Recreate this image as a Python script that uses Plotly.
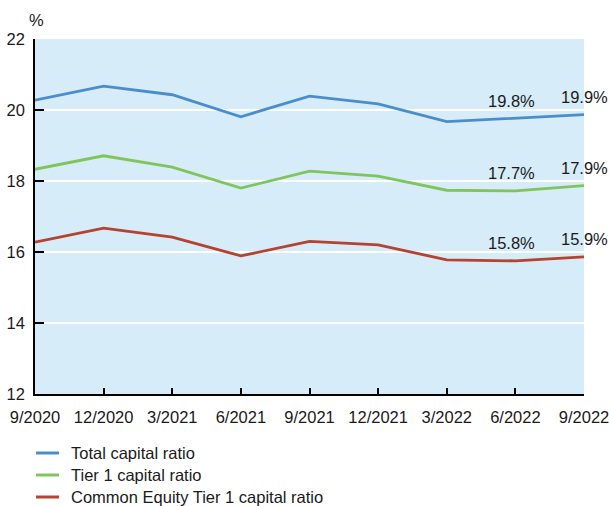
import plotly.graph_objects as go

quarters = ["9/2020", "12/2020", "3/2021", "6/2021", "9/2021",
            "12/2021", "3/2022", "6/2022", "9/2022"]
total_capital = [20.28, 20.67, 20.43, 19.81, 20.39, 20.17, 19.67, 19.76, 19.87]
tier1_capital = [18.33, 18.71, 18.39, 17.80, 18.28, 18.14, 17.74, 17.72, 17.87]
cet1_capital = [16.28, 16.67, 16.42, 15.89, 16.30, 16.20, 15.78, 15.75, 15.86]

series_names = ["Total capital ratio", "Tier 1 capital ratio",
                "Common Equity Tier 1 capital ratio"]
series_values = [total_capital, tier1_capital, cet1_capital]
series_colors = ["#4a8dcc", "#80c45c", "#b4432f"]

FONT = "Liberation Sans, Arial, Helvetica, sans-serif"
TEXT = "#1a1a1a"
FS = 16.5
W, H = 609, 506
M = dict(l=35, r=25, t=39, b=112)

fig = go.Figure()
annotations = []
shapes = []
for name, values, color in zip(series_names, series_values, series_colors):
    fig.add_trace(go.Scatter(
        x=quarters, y=values, name=name, mode="lines",
        line=dict(color=color, width=2.8),
        cliponaxis=False, showlegend=False,
    ))
    # value labels on the two most recent quarters
    for q, v, dx in zip(quarters[-2:], values[-2:], (-4, 0)):
        annotations.append(dict(
            x=q, y=v, xref="x", yref="y", text=f"{v:.1f}%",
            showarrow=False, yshift=18, xshift=dx,
            font=dict(family=FONT, size=FS, color=TEXT),
        ))

# unit label above the value axis
annotations.append(dict(
    x=0, y=1, xref="paper", yref="paper", text="%",
    showarrow=False, xanchor="left", yanchor="bottom", yshift=8, xshift=-8,
    font=dict(family=FONT, size=FS, color=TEXT),
))

# legend below the chart: short colour line + series name
plot_w = W - M["l"] - M["r"]
plot_h = H - M["t"] - M["b"]


def px_x(px):
    return (px - M["l"]) / plot_w


def px_y(py):
    return (H - M["b"] - py) / plot_h


for i, (name, color) in enumerate(zip(series_names, series_colors)):
    yy = px_y(453 + i * 22)
    shapes.append(dict(
        type="line", xref="paper", yref="paper",
        x0=px_x(36), x1=px_x(59), y0=yy, y1=yy,
        line=dict(color=color, width=3),
    ))
    annotations.append(dict(
        x=px_x(69), y=yy, xref="paper", yref="paper", text=name,
        showarrow=False, xanchor="left", yanchor="middle",
        font=dict(family=FONT, size=FS, color=TEXT),
    ))

fig.update_layout(
    width=W, height=H,
    margin=dict(**M, autoexpand=False),
    paper_bgcolor="white",
    plot_bgcolor="#d6ecf9",
    font=dict(family=FONT, size=FS, color=TEXT),
    showlegend=False,
    annotations=annotations,
    shapes=shapes,
)

fig.update_xaxes(
    type="category", range=[0, 8], automargin=False,
    showline=True, linecolor="black", linewidth=1.5,
    ticks="inside", ticklen=6, tickwidth=1.5, tickcolor="black",
    ticklabelstandoff=7,
    showgrid=False, zeroline=False,
    tickfont=dict(family=FONT, size=FS, color=TEXT),
)
fig.update_yaxes(
    range=[12, 22], dtick=2, tick0=12, automargin=False,
    showline=True, linecolor="black", linewidth=1.5,
    ticks="inside", ticklen=9, tickwidth=1.5, tickcolor="black",
    ticklabelstandoff=5,
    showgrid=True, gridcolor="white", gridwidth=1.5, zeroline=False,
    tickfont=dict(family=FONT, size=FS, color=TEXT),
)

fig.write_html("out.html")
